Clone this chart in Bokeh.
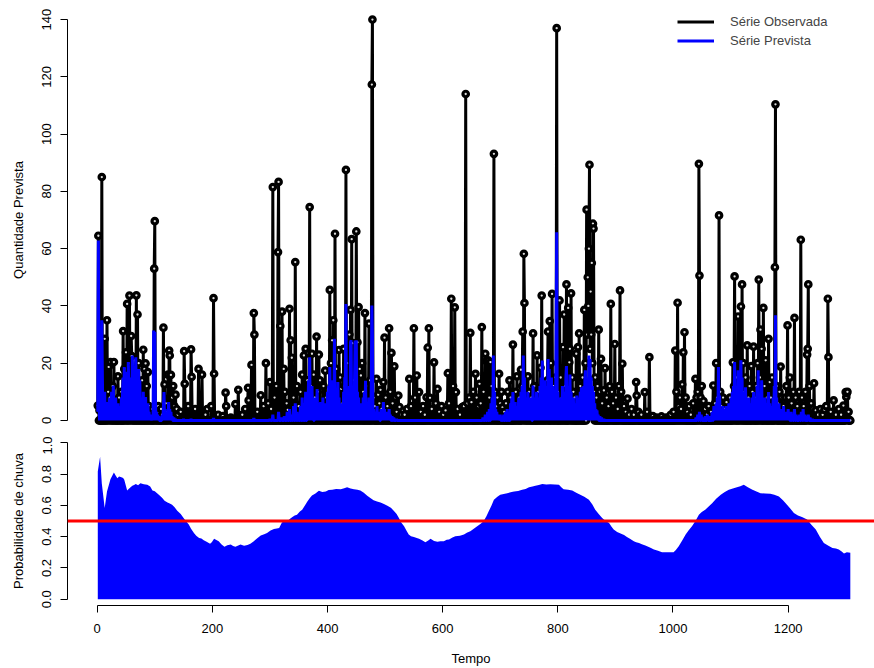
import numpy as np
from bokeh.plotting import figure
from bokeh.layouts import column
from bokeh.models import (Range1d, FixedTicker, PrintfTickFormatter, Span,
                          Legend, LegendItem)
from bokeh.embed import file_html
from bokeh.resources import INLINE

N_DAYS = 1308

# Observed series: (day, value); every other day is 0
obs_wet1 = [(1,5.2),(2,64.5),(4,3.5),(8,85),(10,12),(13,28.5),(15,6),(17,35),(19,10),(20,18.7),
    (22,8),(23,20.4),(25,4),(27,12),(29,20.4),(31,6),(33,3),(36,15.4),(38,8),(40,3),(42,10),
    (45,31.2),(47,18),(49,6),(50,23.8),(52,40.7),(54,20),(56,43.6),(57,8),(59,29.5),(60,22.5),
    (62,12),(64,5),(66,18),(68,43.7),(70,37),(72,20),(74,10),(76,6),(78,14),(80,24.7),(82,18),
    (84,19.9),(86,12),(88,16.9),(90,5),(92,3),(94,1.5),(96,4),(99,53),(100,69.6),(102,4.5),
    (104,2),(106,5),(108,3),(111,4),(113,2),(115,32.4),(117,12.6),(119,6),(121,3),(123,16),
    (125,24.4),(126,22.7),(128,15.9),(130,8),(132,12),(134,5),(136,9),(138,4),(140,2)]
obs_dry1 = [(145,3),(151,24.2),(152,12.8),(158,5),(163,24.8),(164,15.2),(170,4),(176,18),
    (182,16),(188,2),(191,4),(198,5),(202,42.7),(203,16.3),(210,2),(218,1.5),(223,9.7),
    (224,5),(232,1),(240,5.7),(245,10.7),(252,2),(257,4),(262,11.4),(263,7),(268,19.4),
    (272,37.5),(273,30),(278,3),(284,8.8),(289,5),(293,20),(297,6),(300,13.4)]
obs_wet2 = [(302,4),(305,81.5),(308,8),(311,12),(314,58.8),(315,83.3),(318,33),(321,38),
    (324,18),(326,10),(329,6),(331,3.7),(334,39),(336,28),(338,21.9),(341,8),(344,55.3),
    (347,12),(350,5),(353,10),(356,16),(359,22.7),(362,25),(365,14),(367,8),(369,74.5),
    (371,12),(373,23.3),(376,16),(378,8),(381,29.3),(383,10),(385,23),(387,14),(390,6),
    (393,12),(396,17.4),(398,8),(401,5),(404,45.6),(406,20),(408,28),(410,35),(413,65.2),
    (415,18),(417,10),(420,24.6),(422,15),(424,11),(426,6),(428,25),(430,12),(432,87.5),
    (434,20),(436,8),(438,30),(440,38.6),(442,63.3),(444,27),(446,14),(448,22),(450,66),
    (452,27.3),(454,39.6),(456,18),(458,15.7),(460,20),(462,10),(465,37.5),(467,12),(469,6),
    (472,33.8),(474,14),(477,117.3),(478,140),(480,8),(482,5),(485,14.5),(488,9),(490,6),
    (492,10.7),(494,4),(497,13.4),(499,28.9),(501,8),(504,5),(507,32.2),(509,10),(511,23.6),
    (513,6),(516,18.9),(518,8),(520,3),(523,8.7),(525,4.7),(528,2)]
obs_dry2 = [(534,2),(538,4),(542,14.5),(545,5),(550,32.2),(552,8),(555,15.7),(559,9.9),
    (562,3),(566,5),(569,2),(572,8.1),(574,25.4),(576,32.2),(578,7.9),(581,4),(585,20.3),
    (588,6),(591,11),(594,3),(598,5),(601,2),(605,3.5),(609,16.5),(611,6),(615,42.5),
    (618,12),(621,39.5),(623,9.9),(626,4),(630,2),(634,4.7),(637,5),(640,114),(643,6),
    (646,8),(648,30.6),(650,6.4),(653,10),(657,16.3),(659,8),(662,5),(664,12.8),(666,6),
    (668,32.6),(671,10),(674,23.3),(676,20.7),(679,21),(681,8),(683,20.4),(685,12),(687,6)]
obs_wet3 = [(689,93.1),(691,10),(693,5),(695,8),(698,16.3),(700,6),(702,10),(704,4.6),
    (707,3),(710,6),(713,10),(716,14),(718,8),(722,26.5),(725,6),(727,10),(729,15.4),
    (731,5),(733,8),(736,17.7),(738,12),(739,31),(741,58.2),(742,41),(744,10),(746,6),
    (748,15.4),(750,10),(752,5),(754,8),(757,30.4),(759,12),(761,6),(764,22.7),(766,10),
    (768,5),(770,18.4),(772,43.6),(774,8),(776,12),(778,6),(780,10),(782,14),(783,31),
    (786,34.7),(788,20),(790,44.2),(792,12),(794,8),(796,15),(798,137),(800,10),(803,41.9),
    (805,15),(807,8),(809,25.6),(811,37),(813,12),(815,47.5),(818,39.3),(820,20.3),(821,25),
    (823,44.4),(825,15),(827,10),(829,8),(832,23.3),(835,25.6),(837,30.4),(839,12),(841,8),
    (843,15),(846,38.6),(848,20),(850,73.6),(851,30),(852,50),(853,40),(854,60),(855,89.3),
    (856,25),(857,45),(858,30),(859,55),(860,20),(861,68.7),(862,67),(863,10),(865,15),
    (867,8),(869,12),(871,31.7),(873,10),(875,21.5),(877,6),(880,10.5),(882,18.3),(885,8),
    (888,5),(890,12),(892,40.7),(894,10),(896,6),(899,26.7),(901,8),(904,4),(906,12),
    (908,45.4),(910,10),(912,19.8),(915,5),(918,3),(921,7.6),(924,2),(928,4),(932,2),
    (936,13.4),(937,8.7),(940,3),(945,2),(951,9.9),(955,3),(959,22.1),(965,1.5),(972,1),
    (980,1.4),(988,1),(996,2)]
obs_wet4 = [(1001,3),(1004,24.4),(1006,10),(1008,41.1),(1010,5),(1012,8),(1014,4),
    (1016,12.6),(1018,23.8),(1020,30.8),(1022,8),(1025,3),(1028,5),(1031,2),(1035,6),
    (1039,14.5),(1041,8),(1043,10),(1045,89.6),(1046,50.6),(1048,8),(1050,12),(1053,6.8),
    (1056,4),(1059,2),(1062,5),(1066,3),(1070,12.2),(1073,6),(1075,20),(1077,8),(1080,71.6),
    (1082,10),(1084,5),(1087,8),(1090,4),(1093,6.4),(1096,3),(1099,8),(1102,5),(1104,20.3),
    (1106,12),(1107,50.3),(1109,10),(1111,15),(1113,36.3),(1115,12),(1117,20),(1118,39.8),
    (1120,47.5),(1122,20),(1124,10),(1126,15),(1129,26.2),(1131,8),(1133,12),(1136,19),
    (1138,10),(1140,25.8),(1142,8),(1145,12),(1147,20),(1149,49.2),(1151,15),(1152,31.7),
    (1154,25),(1157,39.3),(1159,12),(1161,21),(1163,8),(1166,28.5),(1168,13.4),(1170,8),
    (1172,15),(1175,6),(1177,53.5),(1178,110.4),(1180,12),(1182,6),(1185,10),(1187,18.8),
    (1189,8),(1192,5),(1195,8),(1197,12),(1199,33.2),(1201,8),(1203,15),(1206,6),(1209,10),
    (1211,35.8),(1213,8),(1216,5),(1219,10),(1222,63.1),(1224,8),(1227,5),(1230,10),
    (1233,23),(1234,25),(1235,47.5),(1237,12),(1240,6),(1243,4),(1245,13),(1248,3.5),
    (1252,2),(1256,4),(1260,2),(1263,3.7),(1266,5),(1269,42.5),(1270,22.1),(1274,3),
    (1279,7),(1283,2),(1288,4),(1292,2),(1296,5.2),(1300,9.9),(1301,8.2),(1302,9.5),
    (1303,10),(1305,3)]

# Predicted series: (day, value); every other day is 0
prev_wet1 = [(1,3),(2,62.8),(3,10),(5,4),(7,20),(8,35),(9,15),(11,8),(13,10),(15,4),
    (17,6.4),(19,3),(21,8),(23,5),(25,10),(27,6),(28,12.2),(30,4),(32,8),(34,3),(36,6),
    (38,2),(40,5),(42,8),(44,10),(45,15),(47,18.7),(49,8),(51,12),(52,17),(54,20.4),(55,10),
    (57,12),(59,15),(61,22.7),(62,10),(64,8),(66,15),(67,22.1),(69,10),(71,12),(72,18),
    (74,14),(76,6),(78,8),(80,10),(82,6),(84,8.2),(86,4),(88,6),(90,3),(92,2),(94,1),(96,2),
    (98,31.4),(99,12),(100,31),(101,8),(103,3),(105,2),(107,1.5),(110,1),(113,2),(115,5),
    (116,9.9),(118,4),(120,2),(122,3),(124,6.4),(126,4),(128,3),(130,1.5),(133,1),(136,0.5),
    (150,0.5),(163,0.5),(202,0.8),(272,0.8)]
prev_wet2 = [(300,0.5),(305,2),(315,3),(320,1),(325,1.5),(330,3),(334,4),(338,2),(341,5),
    (344,6),(347,3),(350,2),(353,5),(356,8),(359,6),(362,10),(365,5),(367,14),(369,22.1),
    (371,8),(373,12),(375,6),(378,8),(380,5),(382,11),(384,6),(386,4),(388,6.4),(390,3),
    (392,8),(394,5),(396,6),(398,3),(400,10),(402,12),(404,18.7),(406,10),(408,14),(410,8),
    (412,28.5),(414,10),(416,6),(418,13.4),(420,8),(422,5),(424,6),(426,4),(428,10),(430,15),
    (431,15),(432,40.7),(434,10),(436,6),(438,12),(440,27.3),(441,28),(443,10),(445,8),
    (447,15),(448,27.9),(450,28),(452,10),(454,8),(456,5.8),(458,6),(460,4),(462,8),(464,10),
    (466,13.9),(468,6),(470,4),(472,8),(474,5),(476,12),(477,40.1),(478,30),(480,4),(482,3),
    (484,2),(486,5),(488,3),(490,2),(493,4),(495,3),(497,6.4),(499,4),(501,2),(503,3),
    (505,2),(507,4),(509,2),(512,1.5),(515,1),(520,0.5)]
prev_wet3 = [(670,1),(674,2),(678,3),(681,4),(684,6),(686,8),(688,22.7),(690,10),(692,4),
    (694,3),(696,2),(698,1.5),(700,2),(703,1),(706,2),(709,3),(712,4),(715,2),(718,6),
    (720,8),(722,9.9),(724,4),(726,6.4),(728,3),(730,5),(732,8),(734,6),(736,10),(738,12),
    (740,22.7),(742,15),(744,8),(746,6),(748,10),(750,5),(752,8),(754,6),(757,12.2),(759,6),
    (761,8),(763,10),(765,5),(767,8),(769,12),(771,15),(773,20.9),(775,10),(777,14),(779,8),
    (781,12),(783,21.5),(785,18),(787,10),(789,15),(791,12),(793,8),(795,10),(797,30),
    (798,65.7),(800,10),(802,6),(804,8),(806,8),(808,12),(810,8),(812,10),(814,15),(815,19),
    (817,12),(819,8),(821,16),(823,10),(825,6),(827,8),(829,5),(831,6),(833,8.7),(835,6),
    (837,8),(839,10),(841,11.6),(843,8),(845,12),(847,14),(848,17.5),(850,15),(852,12),
    (854,22.7),(856,21.5),(858,15),(860,12),(862,10),(864,6),(866,4),(868,3.5),(870,2),
    (873,1.5),(876,1),(880,0.5)]
prev_wet4 = [(1040,1),(1043,2),(1046,3),(1049,2),(1052,1),(1056,1.5),(1060,2),(1064,1.5),
    (1068,3),(1071,5),(1073,3),(1075,6),(1077,8),(1079,18.7),(1081,8.7),(1083,4),(1085,3),
    (1087,5),(1089,4),(1091,3),(1093,5),(1095,3),(1097,6),(1099,4),(1101,8),(1103,10),
    (1105,12),(1107,20.4),(1109,10),(1111,12),(1113,17.5),(1115,10),(1117,14),(1118,21),
    (1120,15),(1122,10),(1124,8),(1126,11.6),(1128,8),(1130,6),(1132,8),(1134,5),(1136,6),
    (1138,8),(1140,9.9),(1142,6),(1144,8),(1146,12),(1148,17.5),(1150,10),(1152,8),
    (1154,14),(1156,8),(1158,6),(1160,8),(1162,5),(1164,6),(1166,9.9),(1168,6),(1170,4),
    (1172,5),(1174,8),(1176,12),(1178,36.7),(1180,8),(1182,5),(1184,6),(1186,3),(1188,4),
    (1190,3),(1192,5),(1194,3),(1196,2),(1198,3),(1200,4),(1202,2),(1205,3),(1208,2),
    (1211,4),(1214,2),(1217,1.5),(1220,2),(1223,3),(1226,4),(1229,2),(1232,1.5),(1235,2),
    (1238,1),(1242,0.5)]

# Probability of rain: (day, probability)
prob_curve = [(1,0.816),(5,0.911),(8,0.74),(13,0.583),(17,0.689),(23,0.767),(29,0.81),
    (32,0.79),(35,0.773),(38,0.785),(42,0.78),(45,0.775),(47,0.763),(52,0.695),(56,0.71),
    (61,0.725),(64,0.73),(67,0.737),(71,0.728),(75,0.741),(81,0.735),(87,0.731),(92,0.72),
    (96,0.695),(100,0.69),(104,0.678),(108,0.665),(113,0.647),(117,0.63),(122,0.619),
    (126,0.612),(130,0.604),(134,0.59),(139,0.566),(145,0.545),(150,0.519),(154,0.5),
    (159,0.477),(163,0.45),(168,0.424),(172,0.405),(177,0.392),(181,0.388),(185,0.377),
    (190,0.368),(196,0.354),(199,0.365),(203,0.386),(207,0.378),(211,0.371),(216,0.35),
    (221,0.335),(226,0.345),(232,0.35),(236,0.34),(240,0.335),(245,0.344),(249,0.35),
    (255,0.342),(261,0.346),(266,0.355),(272,0.371),(278,0.39),(284,0.407),(290,0.415),
    (295,0.424),(301,0.44),(307,0.449),(312,0.452),(316,0.456),(321,0.492),(326,0.495),
    (330,0.498),(335,0.515),(339,0.526),(343,0.535),(347,0.54),(352,0.56),(356,0.572),
    (361,0.6),(365,0.625),(369,0.645),(373,0.663),(379,0.675),(385,0.693),(391,0.685),
    (397,0.689),(402,0.698),(408,0.699),(415,0.705),(423,0.703),(429,0.71),(434,0.716),
    (440,0.708),(446,0.703),(452,0.7),(457,0.695),(463,0.68),(469,0.661),(475,0.645),
    (480,0.632),(486,0.625),(492,0.619),(498,0.608),(504,0.598),(510,0.585),(515,0.566),
    (520,0.545),(524,0.519),(528,0.49),(533,0.466),(537,0.44),(541,0.413),(545,0.402),
    (550,0.398),(555,0.392),(559,0.386),(565,0.375),(570,0.365),(575,0.375),(579,0.386),
    (585,0.372),(591,0.367),(596,0.371),(602,0.371),(607,0.38),(611,0.381),(617,0.395),
    (622,0.403),(630,0.405),(637,0.413),(642,0.425),(648,0.434),(654,0.45),(660,0.466),
    (666,0.482),(671,0.498),(676,0.53),(680,0.562),(685,0.6),(689,0.636),(695,0.655),
    (700,0.668),(706,0.672),(712,0.678),(718,0.683),(724,0.689),(731,0.692),(738,0.699),
    (744,0.705),(750,0.716),(756,0.72),(761,0.725),(767,0.73),(773,0.737),(780,0.733),
    (787,0.735),(795,0.733),(802,0.731),(806,0.715),(810,0.703),(818,0.7),(825,0.695),
    (832,0.68),(839,0.668),(846,0.655),(854,0.636),(860,0.605),(865,0.572),(871,0.545),
    (877,0.519),(883,0.5),(889,0.487),(893,0.465),(897,0.445),(903,0.43),(909,0.42),
    (915,0.41),(920,0.398),(926,0.385),(932,0.371),(936,0.365),(941,0.36),(946,0.352),
    (952,0.344),(960,0.33),(967,0.318),(974,0.31),(981,0.301),(991,0.3),(1001,0.301),
    (1005,0.315),(1010,0.339),(1016,0.375),(1022,0.413),(1027,0.44),(1033,0.466),
    (1039,0.5),(1045,0.54),(1050,0.558),(1056,0.572),(1062,0.592),(1068,0.614),
    (1075,0.642),(1083,0.668),(1090,0.685),(1097,0.699),(1104,0.708),(1111,0.716),
    (1117,0.722),(1123,0.731),(1130,0.715),(1138,0.699),(1145,0.688),(1152,0.678),
    (1160,0.675),(1169,0.674),(1176,0.668),(1184,0.657),(1191,0.632),(1198,0.604),
    (1204,0.578),(1210,0.551),(1217,0.535),(1224,0.526),(1233,0.509),(1240,0.478),
    (1248,0.445),(1255,0.4),(1262,0.36),(1270,0.342),(1277,0.328),(1283,0.325),
    (1288,0.318),(1293,0.305),(1297,0.292),(1302,0.3),(1308,0.297)]

threshold = 0.5
top_ticks = [0, 20, 40, 60, 80, 100, 120, 140]
bot_ticks = [0.0, 0.2, 0.4, 0.6, 0.8, 1.0]
x_ticks = [0, 200, 400, 600, 800, 1000, 1200]

# ---- build daily series ----
days = np.arange(1, N_DAYS + 1)
obs = np.zeros(N_DAYS)
for d, v in obs_wet1 + obs_dry1 + obs_wet2 + obs_dry2 + obs_wet3 + obs_wet4:
    obs[d - 1] = v
prev = np.zeros(N_DAYS)
for d, v in prev_wet1 + prev_wet2 + prev_wet3 + prev_wet4:
    prev[d - 1] = v
prob_x = [d for d, _ in prob_curve]
prob_y = [v for _, v in prob_curve]

FONT = "Liberation Sans"
FS = "13px"
XR = Range1d(-51.6, 1350)


def style_axis(ax):
    ax.axis_line_color = "black"
    ax.axis_line_width = 1
    ax.major_tick_line_color = "black"
    ax.major_tick_out = 7
    ax.major_tick_in = 0
    ax.minor_tick_line_color = None
    ax.major_label_text_font = FONT
    ax.major_label_text_font_size = FS
    ax.major_label_text_color = "black"
    ax.axis_label_text_font = FONT
    ax.axis_label_text_font_size = FS
    ax.axis_label_text_font_style = "normal"
    ax.axis_label_text_color = "black"


p1 = figure(width=874, height=436, x_range=XR, y_range=Range1d(-5.6, 145.6),
            output_backend="svg", toolbar_location=None, x_axis_location=None,
            min_border_left=67, min_border_right=0, min_border_top=3, min_border_bottom=0)
p1.grid.visible = False
p1.outline_line_color = None
p1.background_fill_color = "white"
style_axis(p1.yaxis[0])
p1.yaxis.ticker = FixedTicker(ticks=top_ticks)
p1.yaxis.bounds = (0, 140)
p1.yaxis.major_label_orientation = "vertical"
p1.yaxis.major_label_standoff = 9
p1.yaxis.axis_label = "Quantidade Prevista"
p1.yaxis.axis_label_standoff = 14

r_obs = p1.line(days, obs, line_color="black", line_width=3)
p1.scatter(days, obs, marker="circle", size=5.5, line_color="black", line_width=3.2,
           fill_color="#dddddd")
r_prev = p1.line(days, prev, line_color="#0000FF", line_width=3)

legend = Legend(items=[LegendItem(label="Série Observada", renderers=[r_obs]),
                       LegendItem(label="Série Prevista", renderers=[r_prev])],
                location=(610, 386), padding=0, margin=0, spacing=0,
                label_height=19, glyph_height=19, glyph_width=37, label_standoff=16,
                label_text_font=FONT, label_text_font_size=FS,
                background_fill_alpha=0, border_line_alpha=0)
p1.add_layout(legend)

p2 = figure(width=874, height=232, x_range=XR, y_range=Range1d(-0.04, 1.04),
            output_backend="svg", toolbar_location=None,
            min_border_left=67, min_border_right=0, min_border_top=0, min_border_bottom=62)
p2.grid.visible = False
p2.outline_line_color = None
style_axis(p2.yaxis[0])
style_axis(p2.xaxis[0])
p2.yaxis.ticker = FixedTicker(ticks=bot_ticks)
p2.yaxis.formatter = PrintfTickFormatter(format="%.1f")
p2.yaxis.bounds = (0, 1)
p2.yaxis.major_label_orientation = "vertical"
p2.yaxis.major_label_standoff = 9
p2.yaxis.axis_label = "Probabilidade de chuva"
p2.yaxis.axis_label_standoff = 14
p2.xaxis.ticker = FixedTicker(ticks=x_ticks)
p2.xaxis.bounds = (0, 1200)
p2.xaxis.major_label_standoff = 11
p2.xaxis.axis_label = "Tempo"
p2.xaxis.axis_label_standoff = 15

p2.varea(x=prob_x, y1=0, y2=prob_y, fill_color="#0000FF")
p2.add_layout(Span(location=threshold, dimension="width", line_color="#FF0000",
                   line_width=3))

layout = column(p1, p2, spacing=0)
open("out.html", "w").write(file_html(layout, INLINE))
